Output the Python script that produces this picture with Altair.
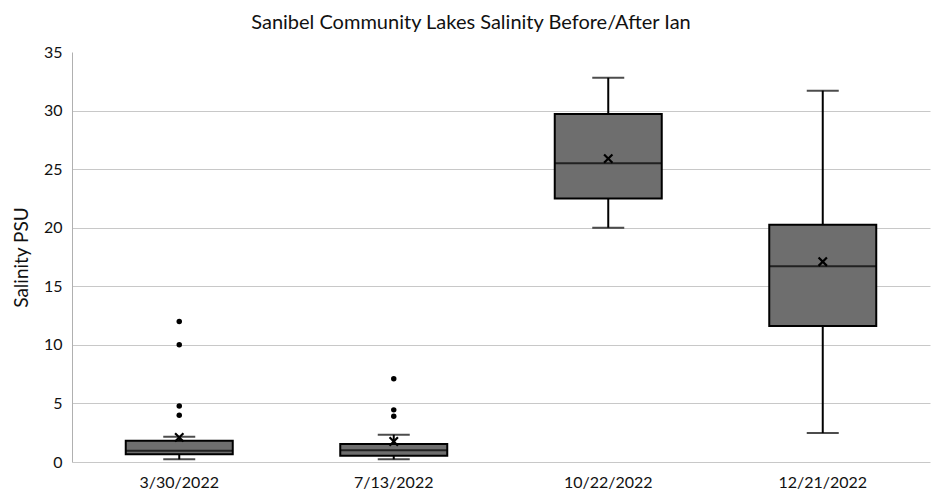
import altair as alt
import pandas as pd

dates = ["3/30/2022", "7/13/2022", "10/22/2022", "12/21/2022"]
whisker_low = [0.23, 0.23, 20.0, 2.47]
q1 = [0.66, 0.54, 22.5, 11.6]
median = [0.95, 1.0, 25.5, 16.7]
q3 = [1.82, 1.54, 29.7, 20.25]
whisker_high = [2.16, 2.33, 32.8, 31.7]
mean = [2.1, 1.75, 25.9, 17.1]

outlier_dates = ["3/30/2022", "3/30/2022", "3/30/2022", "3/30/2022",
                 "7/13/2022", "7/13/2022", "7/13/2022"]
outlier_values = [12.0, 10.0, 4.78, 4.0, 7.1, 4.45, 3.9]

stats = pd.DataFrame({
    "date": dates, "lo": whisker_low, "q1": q1, "med": median,
    "q3": q3, "hi": whisker_high, "mean": mean,
})
outs = pd.DataFrame({"date": outlier_dates, "value": outlier_values})

FONT = "Lato"
xenc = alt.X("date:N", sort=dates, title=None,
             scale=alt.Scale(paddingInner=0, paddingOuter=0),
             axis=alt.Axis(labelAngle=0, labelFontSize=16, labelColor="#111",
                           labelFont=FONT, ticks=False, domain=False,
                           labelPadding=12))
yscale = alt.Scale(domain=[0, 35], nice=False)
yaxis = alt.Axis(values=[0, 5, 10, 15, 20, 25, 30, 35], labelFontSize=16,
                 labelFont=FONT, labelColor="#111", ticks=False,
                 domainColor="#b0b0b0", gridColor="#c8c8c8",
                 gridOpacity=alt.condition("datum.value == 35", alt.value(0), alt.value(1)),
                 title="Salinity PSU", titleFontSize=19, titleFont=FONT,
                 titleFontWeight="normal", titleColor="#111", titlePadding=12,
                 labelPadding=10)

base = alt.Chart(stats).encode(x=xenc)

whisk_up = base.mark_rule(color="black", strokeWidth=2).encode(
    y=alt.Y("q3:Q", scale=yscale, axis=yaxis), y2="hi:Q")
whisk_lo = base.mark_rule(color="black", strokeWidth=2).encode(
    y=alt.Y("lo:Q", scale=yscale), y2="q1:Q")
cap_hi = base.mark_tick(color="black", size=32, thickness=2).encode(
    y=alt.Y("hi:Q", scale=yscale))
cap_lo = base.mark_tick(color="black", size=32, thickness=2).encode(
    y=alt.Y("lo:Q", scale=yscale))
box = base.mark_bar(size=107, color="#6e6e6e", stroke="black", strokeWidth=2).encode(
    y=alt.Y("q1:Q", scale=yscale), y2="q3:Q")
med = base.mark_tick(color="black", size=107, thickness=2).encode(
    y=alt.Y("med:Q", scale=yscale))
mn = base.mark_point(shape="M-1,-1L1,1M-1,1L1,-1", filled=False, stroke="black",
                     strokeWidth=2.2, size=70, opacity=1).encode(
    y=alt.Y("mean:Q", scale=yscale))
pts = alt.Chart(outs).mark_circle(color="black", size=30, opacity=1).encode(
    x=alt.X("date:N", sort=dates), y=alt.Y("value:Q", scale=yscale))

chart = alt.layer(whisk_up, whisk_lo, cap_hi, cap_lo, box, med, mn, pts).properties(
    width=858, height=410,
    title=alt.TitleParams("Sanibel Community Lakes Salinity Before/After Ian",
                          fontSize=20, font=FONT, fontWeight="normal",
                          color="#111", offset=11, dx=-30),
    autosize=alt.AutoSizeParams(type="none"),
    padding={"left": 64, "top": 44, "right": 5, "bottom": 30},
).configure_view(stroke=None)

chart.save("out.html", embed_options={"renderer": "svg", "actions": False})
